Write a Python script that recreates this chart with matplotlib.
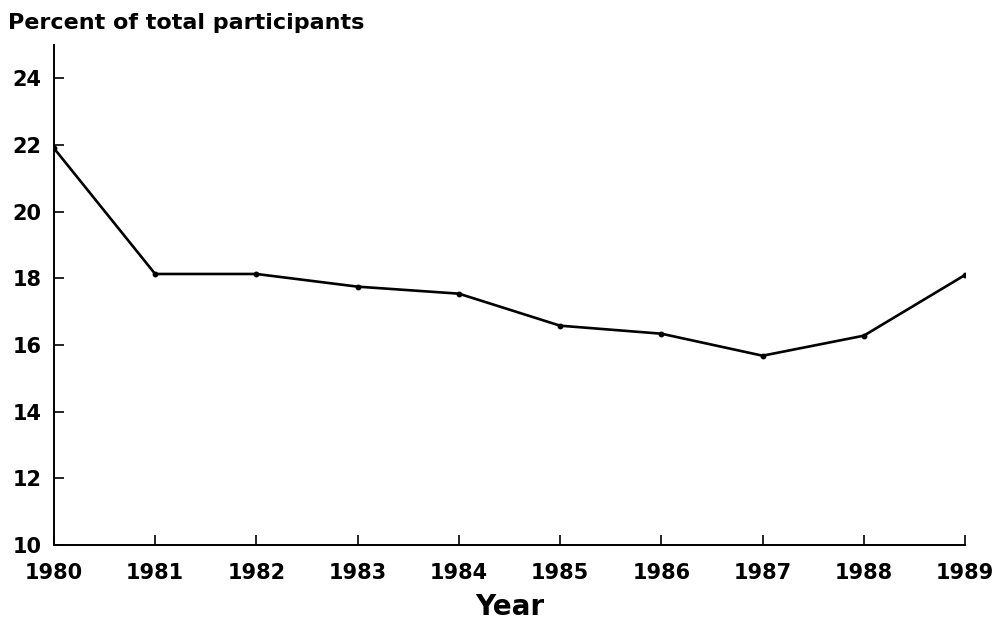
import matplotlib
matplotlib.use("Agg")
import matplotlib.pyplot as plt

years = [1980, 1981, 1982, 1983, 1984, 1985, 1986, 1987, 1988, 1989]
percent = [21.9, 18.13, 18.13, 17.75, 17.54, 16.58, 16.34, 15.68, 16.28, 18.1]
y_ticks = [10, 12, 14, 16, 18, 20, 22, 24]

fig = plt.figure(figsize=(9.99, 6.31), dpi=100)
ax = fig.add_axes([0.054, 0.136, 0.912, 0.793])

ax.plot(years, percent, color="black", lw=1.9, marker="o", ms=3.2)

ax.set_xlim(1980, 1989)
ax.set_ylim(10, 25)
ax.set_xticks(years)
ax.set_yticks(y_ticks)
ax.tick_params(direction="in", length=7, width=1.2, labelsize=15)
ax.tick_params(axis="y", pad=9)
ax.tick_params(axis="x", pad=13)
for lbl in ax.get_xticklabels() + ax.get_yticklabels():
    lbl.set_fontweight("bold")

for sp in ("top", "right"):
    ax.spines[sp].set_visible(False)
for sp in ("left", "bottom"):
    ax.spines[sp].set_linewidth(1.4)

ax.set_xlabel("Year", fontsize=20, fontweight="bold", labelpad=7)
fig.text(0.008, 0.963, "Percent of total participants", fontsize=16,
         fontweight="bold", ha="left", va="center")

fig.savefig("out.png", dpi=100)
